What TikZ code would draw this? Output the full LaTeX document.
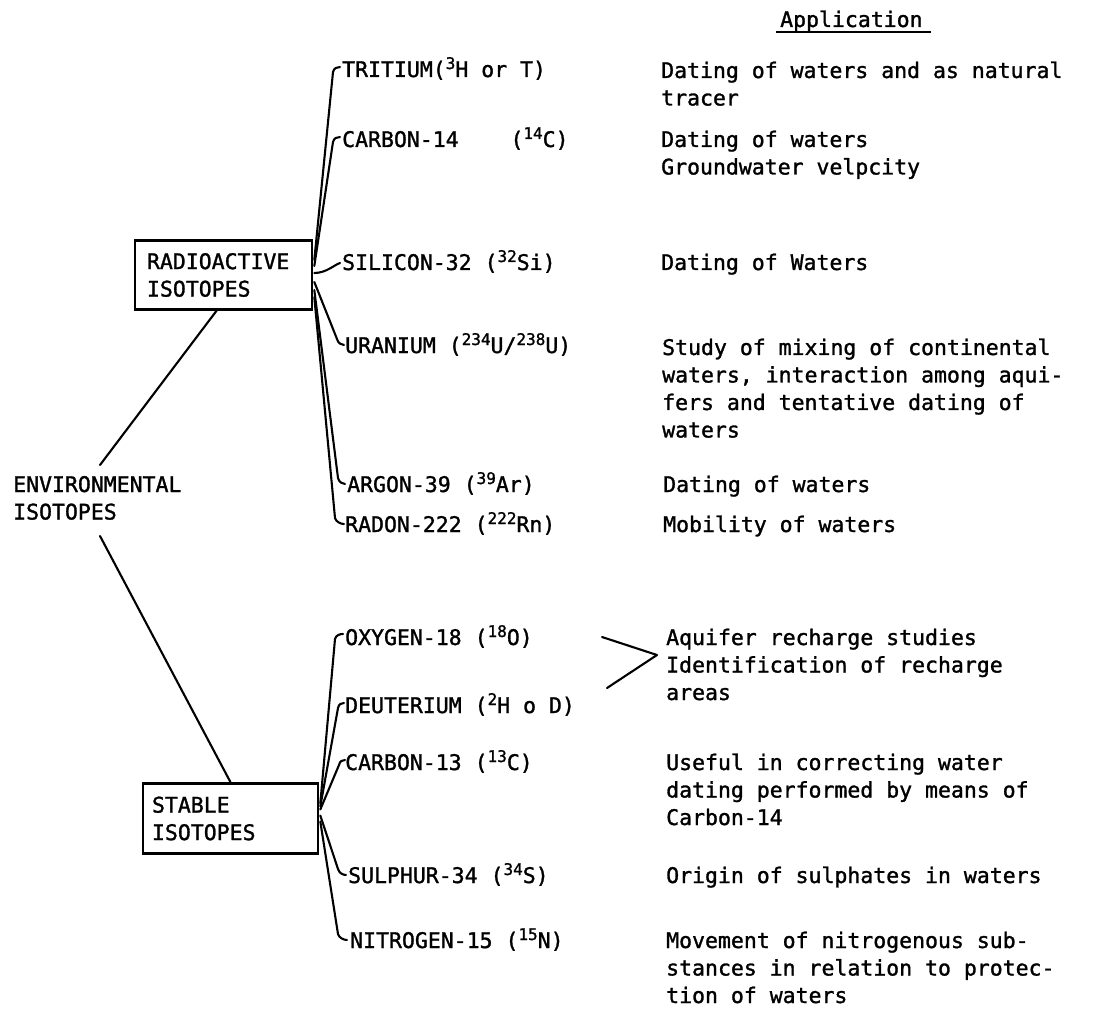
\documentclass[tikz,border=0pt]{standalone}
\usepackage{fontspec}
\setmainfont{DejaVu Sans Mono}[AutoFakeBold=1.3]
\usetikzlibrary{calc}
% raised mass number in front of an element symbol
\newcommand{\massno}[1]{\raisebox{8pt}{\fontsize{16}{16}\selectfont #1}}
% left-aligned block of lines whose baseline is the first line
\newcommand{\stack}[1]{\begin{tabular}[t]{@{}l@{}}#1\end{tabular}}
\begin{document}
\begin{tikzpicture}[x=1pt,y=-1pt,
  every node/.style={inner sep=0pt,font=\fontsize{21.5}{27.5}\selectfont\bfseries},
  lbl/.style={anchor=base west},
  isobox/.style={draw,line width=2.6pt,align=left,inner ysep=0pt},
  link/.style={line width=2.1pt,line cap=round,line join=round}]
\fill[white] (0,0) rectangle (1114,1024);
\useasboundingbox (0,0) rectangle (1114,1024);

% column heading
\node[lbl] (hd) at (780,27) {Application};
\draw[line width=1.8pt] ($(hd.base west)+(-4,5)$) -- ($(hd.base east)+(8,5)$);

% root and the two groups
\node[lbl] (env) at (13,492) {\stack{ENVIRONMENTAL\\ISOTOPES}};
\node[isobox,minimum width=177pt,minimum height=69pt,text width=153pt,inner xsep=12pt]
  (ra) at (223.5,275) {RADIOACTIVE\\ISOTOPES};
\node[isobox,minimum width=175pt,minimum height=70pt,text width=157pt,inner xsep=9pt]
  (st) at (230.5,818.5) {STABLE\\ISOTOPES};
\draw[link] ($(env.base west)+(87,-27)$) -- ($(ra.south)+(-7,0)$);
\draw[link] ($(env.base west)+(87,44)$) -- (st.north);

% radioactive isotopes
\node[lbl] (tri) at (342,77)  {TRITIUM(\massno{3}H or T)};
\node[lbl] (c14) at (342,147) {CARBON-14~~~~(\massno{14}C)};
\node[lbl] (si)  at (342,270) {SILICON-32 (\massno{32}Si)};
\node[lbl] (ur)  at (345,353) {URANIUM (\massno{234}U/\massno{238}U)};
\node[lbl] (ar)  at (347,492) {ARGON-39 (\massno{39}Ar)};
\node[lbl] (rn)  at (345,532) {RADON-222 (\massno{222}Rn)};

% stable isotopes
\node[lbl] (ox)  at (345,645) {OXYGEN-18 (\massno{18}O)};
\node[lbl] (de)  at (345,713) {DEUTERIUM (\massno{2}H o D)};
\node[lbl] (c13) at (345,770) {CARBON-13 (\massno{13}C)};
\node[lbl] (su)  at (348,883) {SULPHUR-34 (\massno{34}S)};
\node[lbl] (ni)  at (350,948) {NITROGEN-15 (\massno{15}N)};

% applications
\node[lbl] (a1)  at (661,78)  {\stack{Dating of waters and as natural\\tracer}};
\node[lbl] (a2)  at (661,147) {\stack{Dating of waters\\Groundwater velpcity}};
\node[lbl] (a3)  at (661,270) {Dating of Waters};
\node[lbl] (a4)  at (662,355) {\stack{Study of mixing of continental\\waters, interaction among aqui-\\fers and tentative dating of\\waters}};
\node[lbl] (a5)  at (663,492) {Dating of waters};
\node[lbl] (a6)  at (663,532) {Mobility of waters};
\node[lbl] (a7)  at (666,645) {\stack{Aquifer recharge studies\\Identification of recharge\\areas}};
\node[lbl] (a8)  at (666,770) {\stack{Useful in correcting water\\dating performed by means of\\Carbon-14}};
\node[lbl] (a9)  at (666,883) {Origin of sulphates in waters};
\node[lbl] (a10) at (666,948) {\stack{Movement of nitrogenous sub-\\stances in relation to protec-\\tion of waters}};

% fan of branches from the radioactive group
\draw[link] ($(ra.east)+(1,-15)$) -- ($(tri.base west)+(-9,-5)$)
  .. controls +(1,-4) and +(-3,0) .. ($(tri.base west)+(-2,-10)$);
\draw[link] ($(ra.east)+(1,-9)$) -- ($(c14.base west)+(-9,-5)$)
  .. controls +(1,-4) and +(-3,0) .. ($(c14.base west)+(-2,-10)$);
\draw[link] ($(ra.east)+(1,-2)$) .. controls +(12,0) and +(-6,2) .. ($(si.base west)+(-2,-7)$);
\draw[link] ($(ra.east)+(1,7)$) -- ($(ur.base west)+(-8,-14)$)
  .. controls +(1,4) and +(-3,0) .. ($(ur.base west)+(-1,-8)$);
\draw[link] ($(ra.east)+(1,15)$) -- ($(ar.base west)+(-9,-14)$)
  .. controls +(1,4) and +(-3,0) .. ($(ar.base west)+(-2,-8)$);
\draw[link] ($(ra.east)+(1,22)$) -- ($(rn.base west)+(-10,-14)$)
  .. controls +(1,4) and +(-3,0) .. ($(rn.base west)+(-1,-8)$);

% fan of branches from the stable group
\draw[link] ($(st.east)+(1,-15)$) -- ($(ox.base west)+(-10,-6)$)
  .. controls +(1,-4) and +(-3,0) .. ($(ox.base west)+(-2,-11)$);
\draw[link] ($(st.east)+(1,-12)$) -- ($(de.base west)+(-7,-5)$)
  .. controls +(1,-4) and +(-3,0) .. ($(de.base west)+(-1,-10)$);
\draw[link] ($(st.east)+(1,-9)$) -- ($(c13.base west)+(-6,-5)$)
  .. controls +(1,-4) and +(-3,0) .. ($(c13.base west)+(0,-10)$);
\draw[link] ($(st.east)+(1,-3)$) -- ($(su.base west)+(-10,-14)$)
  .. controls +(1,4) and +(-3,0) .. ($(su.base west)+(-2,-8)$);
\draw[link] ($(st.east)+(1,3)$) -- ($(ni.base west)+(-12,-14)$)
  .. controls +(1,4) and +(-3,0) .. ($(ni.base west)+(-3,-8)$);

% shared application of oxygen-18 and deuterium
\coordinate (bv) at ($(a7.base west)+(-9,10)$);
\coordinate (bt) at (602,637);
\coordinate (bb) at (607,688);
\draw[link] (bt) -- (bv) -- (bb);
\end{tikzpicture}
\end{document}
